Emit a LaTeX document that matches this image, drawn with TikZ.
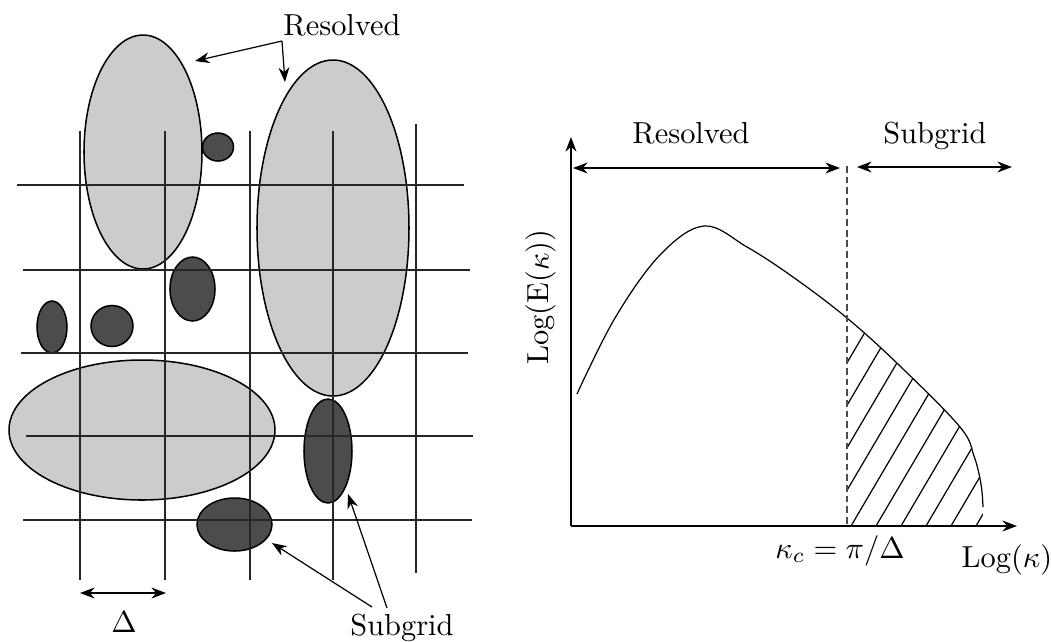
\documentclass[tikz,border=0pt]{standalone}
\usepackage{amsfonts,amsmath,amssymb}
\usepackage{tikz}
\usetikzlibrary{arrows.meta, positioning, calc}

% energy spectrum curve (pixel coordinates)
\newcommand{\spectrum}{plot[smooth, tension=0.6] coordinates {(577,394) (615,318) (660,255) (704,226) (747,247) (793,277) (847,318) (900,366) (960,427) (974,456) (981,484) (983,507)}}

\begin{document}
\begin{tikzpicture}[
  x=0.01157cm, y=-0.01157cm,
  light/.style  = {draw=black, fill=black!20, line width=0.5pt},
  dark/.style   = {draw=black, fill=black!70, line width=0.5pt},
  gridln/.style = {black!85, line width=0.5pt},
  arr/.style    = {->, >=Stealth, line width=0.4pt, black},
  arr2/.style   = {<->, >=Stealth, line width=0.4pt, black},
  hatch/.style  = {line width=0.4pt, black},
  lbl/.style    = {anchor=base, inner sep=0pt},
]
  \useasboundingbox (0,0) rectangle (1052,641);

  % resolved eddies
  \draw[light] (143,152) ellipse [x radius=59, y radius=117];
  \draw[light] (333,228) ellipse [x radius=76, y radius=168];
  \draw[light] (142,430) ellipse [x radius=133, y radius=70];

  % subgrid eddies
  \draw[dark] (218,147) ellipse [x radius=15.5, y radius=14];
  \draw[dark] (192.5,289) ellipse [x radius=22.5, y radius=32];
  \draw[dark] (52,327) ellipse [x radius=15, y radius=26];
  \draw[dark] (112,326) ellipse [x radius=21, y radius=20.5];
  \draw[dark] (328,451) ellipse [x radius=24, y radius=52];
  \draw[dark] (234.5,524.5) ellipse [x radius=37.5, y radius=26.5];

  % mesh
  \foreach \x/\t/\b in {80/131/580, 165/131/580, 250/131/580, 333/131/580, 416/124/573}
    \draw[gridln] (\x,\t) -- (\x,\b);
  \foreach \y/\l/\r in {185/17/464, 270/23/470, 353/21/468, 436/26/473, 520/23/472}
    \draw[gridln] (\l,\y) -- (\r,\y);

  % labels of the left panel
  \node[lbl] (reslbl) at (342,35) {Resolved};
  \coordinate (rescorner) at (282,41);
  \coordinate (restipA) at (195,61);
  \coordinate (restipB) at (285,82);
  \draw[arr] (rescorner) -- (restipA);
  \draw[arr] (rescorner) -- (restipB);

  \node[lbl] (sublbl) at (402,635) {Subgrid};
  \coordinate (subfootA) at (372,607);
  \coordinate (subfootB) at (387,608);
  \coordinate (subtipA) at (272,543);
  \coordinate (subtipB) at (348,494);
  \draw[arr] (subfootA) -- (subtipA);
  \draw[arr] (subfootB) -- (subtipB);

  \coordinate (dleft) at (80,593);
  \coordinate (dright) at (166,593);
  \draw[arr2] (dleft) -- (dright);
  \node[lbl] (deltalbl) at (124,632) {$\Delta$};

  % spectrum panel
  \coordinate (origin) at (571,526);
  \coordinate (ytip) at (571,137);
  \coordinate (xtip) at (1017,526);
  \draw[arr] (origin) -- (ytip);
  \draw[arr] (origin) -- (xtip);

  \begin{scope}
    \clip (847,0) rectangle (1052,526);
    \clip \spectrum -- (983,526) -- (577,526) -- cycle;
    \foreach \k in {0,...,9}
      \draw[hatch] ({751+25*\k},526) -- ++(160,-272);
  \end{scope}
  \draw[line width=0.4pt] \spectrum;

  \coordinate (cuttop) at (847,166);
  \coordinate (cutbot) at (847,526);
  \draw[black!70, line width=0.5pt, dash pattern=on 2.2pt off 1.3pt] (cuttop) -- (cutbot);

  \coordinate (rleft) at (573,168);
  \coordinate (rright) at (840,168);
  \coordinate (sleft) at (857,167);
  \coordinate (sright) at (1012,167);
  \draw[arr2] (rleft) -- (rright);
  \draw[arr2] (sleft) -- (sright);
  \node[lbl] (reslbl2) at (691,143) {Resolved};
  \node[lbl] (sublbl2) at (935,143) {Subgrid};

  \node[lbl] (kclbl) at (840,558) {$\kappa_c=\pi/\Delta$};
  \node[lbl] (xlbl) at (1007,567) {Log($\kappa$)};
  \node[rotate=90, inner sep=0pt] (ylbl) at (541,297) {Log(E($\kappa$))};
\end{tikzpicture}
\end{document}
